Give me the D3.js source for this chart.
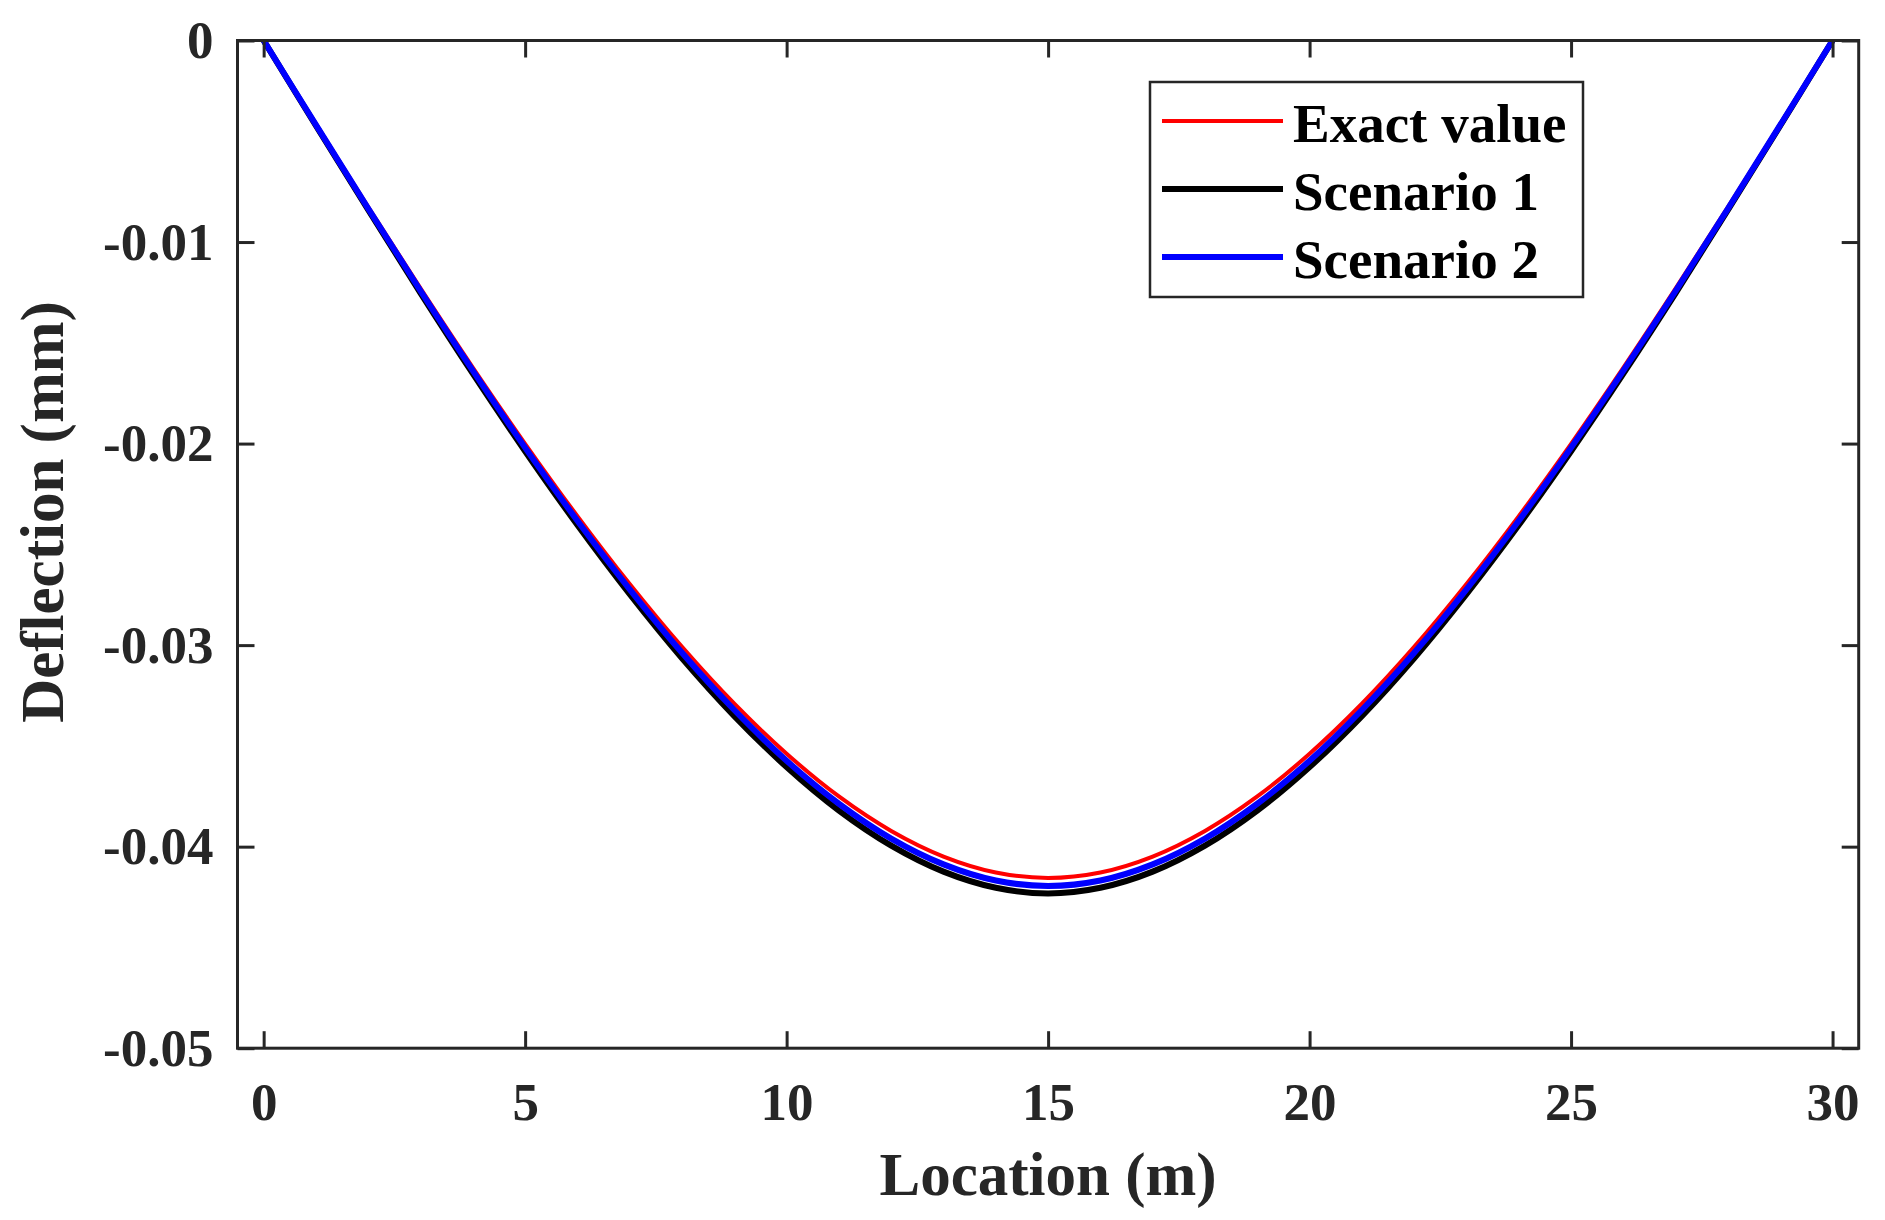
<!DOCTYPE html>
<html>
<head>
<meta charset="utf-8">
<script src="https://cdn.jsdelivr.net/npm/d3@7"></script>
<style>
  html, body { margin: 0; padding: 0; background: #fff; }
  svg { display: block; }
</style>
</head>
<body>
<svg id="chart" width="1885" height="1220"></svg>
<script>
// Location along the beam (m)
const locations = d3.range(0, 31, 1);
// Deflection values (mm)
const exactValue = [0, -0.00415, -0.00826, -0.01230, -0.01623, -0.02001, -0.02360, -0.02697, -0.03009, -0.03291, -0.03539, -0.03751, -0.03922, -0.04049, -0.04128, -0.04155,
  -0.04128, -0.04049, -0.03922, -0.03751, -0.03539, -0.03291, -0.03009, -0.02697, -0.02360, -0.02001, -0.01623, -0.01230, -0.00826, -0.00415, 0];
const scenario1 = [0, -0.00423, -0.00841, -0.01253, -0.01653, -0.02038, -0.02404, -0.02747, -0.03065, -0.03352, -0.03605, -0.03821, -0.03995, -0.04124, -0.04204, -0.04232,
  -0.04204, -0.04124, -0.03995, -0.03821, -0.03605, -0.03352, -0.03065, -0.02747, -0.02404, -0.02038, -0.01653, -0.01253, -0.00841, -0.00423, 0];
const scenario2 = [0, -0.00419, -0.00834, -0.01242, -0.01638, -0.02020, -0.02383, -0.02723, -0.03038, -0.03322, -0.03574, -0.03787, -0.03960, -0.04088, -0.04168, -0.04195,
  -0.04168, -0.04088, -0.03960, -0.03787, -0.03574, -0.03322, -0.03038, -0.02723, -0.02383, -0.02020, -0.01638, -0.01242, -0.00834, -0.00419, 0];
const seriesNames = ["Exact value", "Scenario 1", "Scenario 2"];
const xTicks = [0, 5, 10, 15, 20, 25, 30];
const yTicks = [0, -0.01, -0.02, -0.03, -0.04, -0.05];
const yTickLabels = ["0", "-0.01", "-0.02", "-0.03", "-0.04", "-0.05"];

(function () {
const series = [
  { name: seriesNames[0], values: exactValue, color: "#ff0000", width: 4 },
  { name: seriesNames[1], values: scenario1, color: "#000000", width: 6 },
  { name: seriesNames[2], values: scenario2, color: "#0000ff", width: 6 }
];

const svg = d3.select("#chart");
const L = 237.5, R = 1858.7, T = 40.5, B = 1048.2;
const axisColor = "#262626";
const font = "'Liberation Serif', 'Times New Roman', serif";

const x = d3.scaleLinear().domain([-0.5, 30.5]).range([L, R]);
const y = d3.scaleLinear().domain([-0.05, 0]).range([B, T]);

svg.append("defs").append("clipPath").attr("id", "clip")
  .append("rect").attr("x", L).attr("y", T).attr("width", R - L).attr("height", B - T);

// lines
const line = d3.line().x((d, i) => x(locations[i])).y(d => y(d)).curve(d3.curveCatmullRom);
const plot = svg.append("g").attr("clip-path", "url(#clip)");
series.forEach(s => {
  plot.append("path").datum(s.values)
    .attr("d", line)
    .attr("fill", "none")
    .attr("stroke", s.color)
    .attr("stroke-width", s.width)
    .attr("stroke-linejoin", "round");
});

// axes: bottom, left, top, right with inward ticks
const tickLen = 17;
const gBottom = svg.append("g").attr("transform", `translate(0,${B})`)
  .call(d3.axisBottom(x).tickValues(xTicks).tickSizeInner(-tickLen).tickSizeOuter(0).tickPadding(34).tickFormat(d3.format("d")));
const gTop = svg.append("g").attr("transform", `translate(0,${T})`)
  .call(d3.axisTop(x).tickValues(xTicks).tickSizeInner(-tickLen).tickSizeOuter(0).tickFormat(""));
const gLeft = svg.append("g").attr("transform", `translate(${L},0)`)
  .call(d3.axisLeft(y).tickValues(yTicks).tickSizeInner(-tickLen).tickSizeOuter(0).tickPadding(24)
    .tickFormat((d, i) => yTickLabels[i]));
const gRight = svg.append("g").attr("transform", `translate(${R},0)`)
  .call(d3.axisRight(y).tickValues(yTicks).tickSizeInner(-tickLen).tickSizeOuter(0).tickFormat(""));

[gBottom, gTop, gLeft, gRight].forEach(g => {
  g.select(".domain").remove();
  g.selectAll(".tick line").attr("stroke", axisColor).attr("stroke-width", 3);
  g.selectAll(".tick text").attr("fill", axisColor)
    .style("font-family", font).style("font-weight", "bold").style("font-size", "53px");
});
gBottom.selectAll(".tick text").attr("dy", "0.71em");

// box
svg.append("rect").attr("x", L).attr("y", T).attr("width", R - L).attr("height", B - T)
  .attr("fill", "none").attr("stroke", axisColor).attr("stroke-width", 3);

// axis labels
svg.append("text").attr("x", (L + R) / 2).attr("y", 1195)
  .attr("text-anchor", "middle").attr("fill", axisColor)
  .style("font-family", font).style("font-weight", "bold").style("font-size", "61px")
  .text("Location (m)");
svg.append("text").attr("transform", `translate(63,512) rotate(-90)`)
  .attr("text-anchor", "middle").attr("fill", axisColor)
  .style("font-family", font).style("font-weight", "bold").style("font-size", "61px")
  .text("Deflection (mm)");

// legend
const lg = svg.append("g");
lg.append("rect").attr("x", 1150).attr("y", 82).attr("width", 433).attr("height", 215)
  .attr("fill", "#fff").attr("stroke", axisColor).attr("stroke-width", 2.5);
const legY = [121, 189, 257];
series.forEach((s, i) => {
  lg.append("line").attr("x1", 1162).attr("x2", 1283).attr("y1", legY[i]).attr("y2", legY[i])
    .attr("stroke", s.color).attr("stroke-width", s.width);
  lg.append("text").attr("x", 1293).attr("y", legY[i] + 21)
    .attr("fill", "#000")
    .style("font-family", font).style("font-weight", "bold").style("font-size", "55px")
    .text(s.name);
});
})();
</script>
</body>
</html>
